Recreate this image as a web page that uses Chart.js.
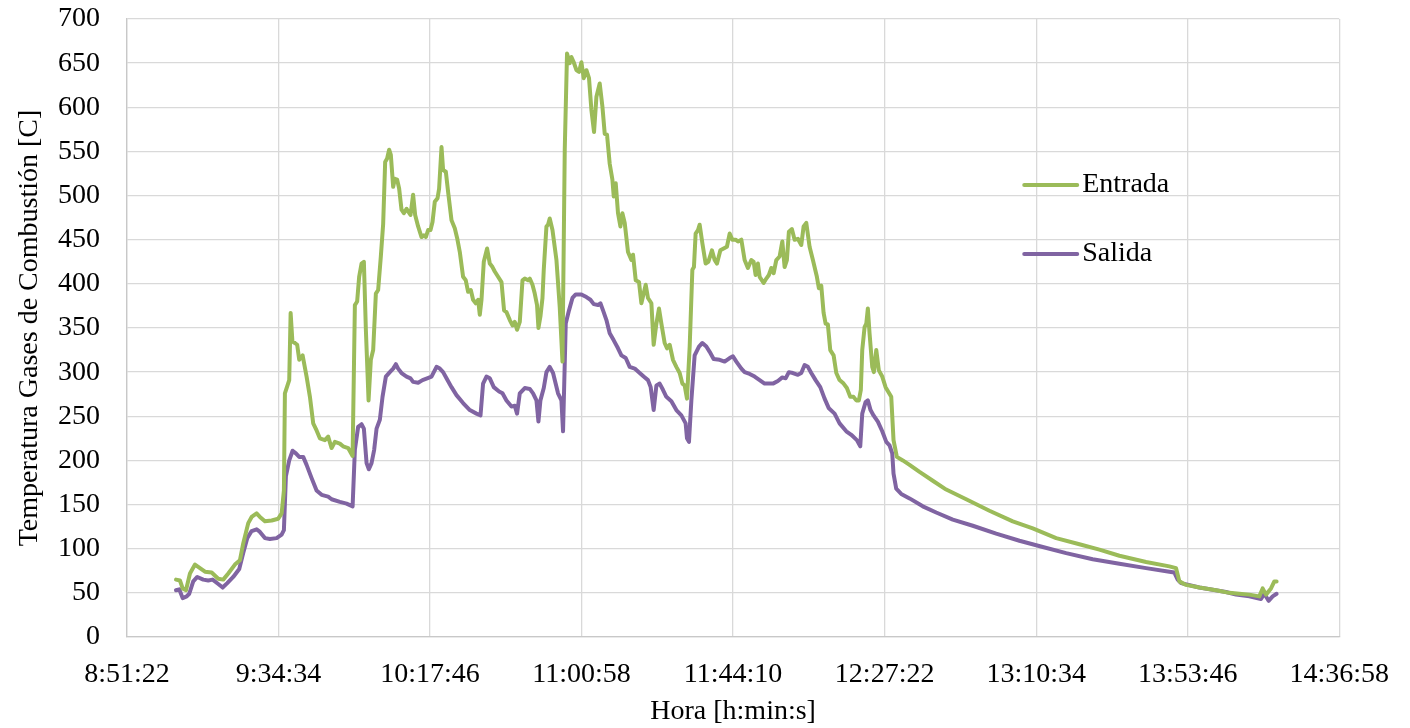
<!DOCTYPE html>
<html lang="es">

<head>
    <meta charset="UTF-8">
    <title>Temperatura gases de combustión</title>
</head>
<style>
    body {
        margin: 0;
        background: #ffffff;
    }

    .chart-con {
        position: relative;
        width: 1410px;
        height: 728px;
    }
</style>

<body>
    <div class="chart-con">
        <canvas id="temp"></canvas>
    </div>
    <script src="https://cdn.jsdelivr.net/npm/chart.js@4"></script>
    <script>
        // marcas del eje horizontal
        const horaTicks = ['8:51:22', '9:34:34', '10:17:46', '11:00:58', '11:44:10',
            '12:27:22', '13:10:34', '13:53:46', '14:36:58'];

        // Entrada
        const horaEntrada = [
            '9:05:20', '9:06:28', '9:07:14', '9:08:11', '9:09:19', '9:10:45', '9:12:10', '9:13:36', '9:15:30', '9:17:23',
            '9:18:48', '9:20:14', '9:22:08', '9:23:34', '9:24:30', '9:25:56', '9:26:54', '9:28:19', '9:29:16', '9:30:41',
            '9:32:36', '9:34:29', '9:35:27', '9:36:06', '9:36:23', '9:37:37', '9:38:01', '9:38:31', '9:39:14', '9:39:53',
            '9:40:28', '9:41:26', '9:42:34', '9:43:31', '9:44:27', '9:45:25', '9:46:21', '9:47:47', '9:48:43', '9:49:42',
            '9:50:38', '9:52:03', '9:52:58', '9:54:25', '9:55:41', '9:56:20', '9:56:59', '9:57:33', '9:58:14', '9:58:54',
            '9:59:28', '10:00:14', '10:00:53', '10:01:33', '10:02:19', '10:02:58', '10:03:44', '10:04:24', '10:04:58', '10:05:32',
            '10:06:06', '10:06:35', '10:07:15', '10:07:44', '10:08:23', '10:08:57', '10:09:38', '10:10:18', '10:11:04', '10:11:43',
            '10:12:12', '10:12:56', '10:13:31', '10:14:22', '10:15:20', '10:15:59', '10:16:34', '10:17:13', '10:17:54', '10:18:28',
            '10:19:07', '10:19:54', '10:20:21', '10:21:02', '10:21:29', '10:22:16', '10:22:55', '10:23:53', '10:24:49', '10:25:29',
            '10:26:15', '10:27:11', '10:27:57', '10:28:37', '10:29:23', '10:30:02', '10:30:48', '10:31:28', '10:31:57', '10:32:26',
            '10:33:05', '10:34:02', '10:34:48', '10:35:34', '10:36:13', '10:37:10', '10:38:08', '10:38:52', '10:39:33', '10:40:30',
            '10:41:16', '10:41:55', '10:42:34', '10:43:21', '10:44:07', '10:44:46', '10:45:42', '10:46:12', '10:46:58', '10:47:37',
            '10:48:16', '10:48:40', '10:49:14', '10:49:49', '10:50:11', '10:50:57', '10:51:24', '10:51:53', '10:52:40', '10:53:48',
            '10:54:44', '10:55:31', '10:56:10', '10:56:49', '10:57:35', '10:58:04', '10:58:44', '10:59:30', '11:00:14', '11:00:55',
            '11:01:35', '11:02:21', '11:03:05', '11:03:46', '11:04:31', '11:05:12', '11:06:08', '11:06:54', '11:07:34', '11:08:13',
            '11:08:59', '11:09:45', '11:10:08', '11:10:42', '11:11:21', '11:12:02', '11:12:36', '11:13:16', '11:14:12', '11:15:10',
            '11:15:38', '11:16:24', '11:17:20', '11:18:01', '11:19:15', '11:19:54', '11:20:52', '11:21:31', '11:22:18', '11:23:02',
            '11:23:43', '11:24:39', '11:25:19', '11:26:05', '11:27:01', '11:27:59', '11:28:56', '11:29:42', '11:30:21', '11:31:01',
            '11:31:47', '11:32:33', '11:33:00', '11:33:29', '11:34:09', '11:34:38', '11:35:24', '11:36:20', '11:37:06', '11:38:08',
            '11:38:54', '11:39:34', '11:40:32', '11:41:28', '11:42:24', '11:43:11', '11:43:57', '11:44:53', '11:45:33', '11:46:31',
            '11:47:27', '11:48:23', '11:49:22', '11:50:01', '11:50:35', '11:51:14', '11:51:44', '11:52:52', '11:53:38', '11:54:22',
            '11:55:04', '11:55:43', '11:56:29', '11:57:25', '11:58:12', '11:58:51', '11:59:30', '12:00:04', '12:00:56', '12:01:42',
            '12:02:38', '12:03:36', '12:04:16', '12:05:02', '12:05:58', '12:06:55', '12:08:03', '12:08:37', '12:09:18', '12:09:58',
            '12:10:32', '12:11:11', '12:11:52', '12:12:49', '12:13:35', '12:14:31', '12:15:40', '12:16:36', '12:17:34', '12:18:30',
            '12:19:17', '12:20:01', '12:20:35', '12:20:59', '12:21:39', '12:22:08', '12:22:35', '12:23:04', '12:23:50', '12:24:18',
            '12:24:59', '12:25:43', '12:26:41', '12:27:38', '12:29:15', '12:29:54', '12:30:51', '12:32:33', '12:34:28', '12:37:19',
            '12:41:06', '12:44:55', '12:50:37', '12:57:15', '13:03:54', '13:09:36', '13:16:16', '13:22:54', '13:28:36', '13:34:18',
            '13:41:54', '13:48:33', '13:50:27', '13:51:24', '13:53:18', '13:57:06', '14:01:51', '14:05:38', '14:08:29', '14:11:20',
            '14:14:11', '14:15:08', '14:16:06', '14:17:31', '14:18:28', '14:19:07'
        ];
        const entrada = [
            65, 64, 55, 53, 72, 82, 78, 74, 73, 66,
            65, 72, 82, 87, 106, 129, 136, 140, 136, 131,
            132, 134, 140, 166, 276, 291, 367, 335, 333, 331,
            314, 319, 295, 272, 242, 234, 225, 223, 227, 214,
            221, 219, 216, 214, 205, 376, 380, 408, 423, 425,
            348, 268, 314, 325, 389, 393, 431, 468, 538, 542,
            552, 546, 510, 519, 518, 508, 484, 480, 485, 481,
            478, 501, 478, 465, 453, 455, 453, 461, 461, 470,
            493, 497, 508, 555, 529, 527, 504, 472, 463, 452,
            436, 408, 404, 391, 393, 382, 378, 382, 365, 382,
            425, 440, 423, 419, 414, 408, 402, 370, 368, 359,
            353, 357, 348, 357, 404, 406, 404, 406, 399, 389,
            376, 350, 363, 384, 416, 465, 467, 474, 461, 427,
            374, 312, 552, 661, 650, 657, 651, 642, 640, 651,
            633, 642, 633, 597, 572, 612, 627, 601, 570, 569,
            536, 518, 499, 514, 480, 465, 480, 469, 436, 427,
            433, 404, 402, 378, 399, 384, 378, 331, 355, 372,
            355, 333, 327, 331, 314, 306, 299, 287, 285, 270,
            329, 416, 419, 457, 461, 467, 446, 423, 425, 438,
            427, 423, 438, 440, 442, 457, 450, 450, 448, 450,
            427, 418, 427, 425, 410, 423, 408, 401, 406, 410,
            418, 412, 427, 431, 448, 419, 427, 459, 462, 450,
            451, 444, 465, 469, 442, 427, 408, 395, 398, 367,
            355, 354, 325, 319, 299, 291, 287, 282, 272, 272,
            268, 268, 280, 325, 351, 355, 372, 344, 306, 300,
            325, 302, 295, 283, 272, 223, 204, 200, 195, 187,
            177, 167, 156, 143, 131, 123, 112, 105, 99, 92,
            85, 80, 78, 63, 59, 56, 53, 50, 49, 48,
            46, 55, 48, 55, 63, 63
        ];

        // Salida
        const horaSalida = [
            '9:05:20', '9:06:16', '9:07:14', '9:08:23', '9:09:07', '9:10:15', '9:11:24', '9:13:06', '9:14:32', '9:15:47',
            '9:17:23', '9:18:38', '9:19:57', '9:21:39', '9:23:22', '9:24:30', '9:25:39', '9:26:54', '9:28:19', '9:29:16',
            '9:30:41', '9:32:07', '9:34:01', '9:35:27', '9:36:06', '9:36:40', '9:37:37', '9:38:35', '9:39:31', '9:40:28',
            '9:41:36', '9:42:34', '9:44:00', '9:45:25', '9:46:51', '9:48:43', '9:49:42', '9:52:03', '9:53:58', '9:55:41',
            '9:56:20', '9:57:16', '9:58:14', '9:58:54', '9:59:40', '10:00:19', '10:01:05', '10:01:50', '10:02:31', '10:03:27',
            '10:04:13', '10:05:10', '10:06:18', '10:07:15', '10:08:01', '10:08:40', '10:09:38', '10:11:04', '10:12:12', '10:12:56',
            '10:14:22', '10:15:37', '10:16:56', '10:18:11', '10:19:37', '10:20:33', '10:21:29', '10:22:27', '10:23:53', '10:25:18',
            '10:27:11', '10:29:06', '10:31:00', '10:32:09', '10:32:53', '10:33:51', '10:34:48', '10:35:56', '10:37:27', '10:38:25',
            '10:39:33', '10:40:59', '10:41:55', '10:42:34', '10:43:21', '10:44:46', '10:46:12', '10:47:08', '10:48:06', '10:48:40',
            '10:49:14', '10:50:11', '10:50:57', '10:51:53', '10:52:50', '10:54:15', '10:55:13', '10:55:41', '10:56:27', '10:57:23',
            '10:58:22', '10:59:18', '11:00:55', '11:02:21', '11:03:29', '11:04:26', '11:05:39', '11:06:20', '11:07:05', '11:08:03',
            '11:08:59', '11:10:08', '11:11:21', '11:12:19', '11:13:33', '11:14:41', '11:16:07', '11:17:32', '11:18:40', '11:19:54',
            '11:20:40', '11:21:31', '11:22:18', '11:23:14', '11:24:10', '11:25:08', '11:26:34', '11:27:59', '11:29:25', '11:30:38',
            '11:31:01', '11:31:35', '11:32:16', '11:33:12', '11:34:26', '11:35:24', '11:36:32', '11:37:29', '11:38:37', '11:40:20',
            '11:41:45', '11:43:11', '11:44:07', '11:45:05', '11:46:31', '11:47:27', '11:48:53', '11:50:18', '11:51:44', '11:53:09',
            '11:55:31', '11:56:56', '11:58:12', '11:59:08', '12:00:04', '12:01:13', '12:02:38', '12:03:36', '12:04:33', '12:05:29',
            '12:06:27', '12:07:41', '12:09:01', '12:10:15', '12:11:28', '12:13:06', '12:14:31', '12:16:26', '12:17:51', '12:19:27',
            '12:20:25', '12:20:59', '12:21:56', '12:22:35', '12:23:21', '12:24:12', '12:25:26', '12:26:41', '12:27:50', '12:28:46',
            '12:29:32', '12:29:54', '12:30:40', '12:32:06', '12:34:28', '12:38:15', '12:42:04', '12:46:48', '12:52:30', '12:59:10',
            '13:05:48', '13:12:27', '13:19:07', '13:26:41', '13:34:18', '13:41:54', '13:48:33', '13:49:58', '13:50:55', '13:51:53',
            '13:57:06', '14:04:42', '14:07:33', '14:11:20', '14:14:40', '14:15:37', '14:16:50', '14:17:59', '14:19:07'
        ];
        const salida = [
            53, 54, 44, 46, 49, 63, 68, 65, 64, 65,
            60, 56, 61, 68, 77, 95, 112, 120, 122, 119,
            112, 111, 112, 116, 121, 182, 200, 211, 208, 204,
            204, 195, 180, 166, 161, 159, 156, 153, 151, 148,
            212, 238, 241, 236, 197, 190, 197, 212, 236, 246,
            272, 295, 300, 304, 309, 304, 299, 295, 293, 289,
            288, 291, 293, 295, 306, 304, 300, 293, 283, 274,
            265, 257, 253, 251, 287, 295, 293, 283, 278, 276,
            268, 261, 262, 253, 276, 282, 281, 276, 268, 244,
            268, 282, 300, 306, 299, 276, 268, 233, 355, 370,
            384, 388, 388, 385, 382, 377, 376, 378, 370, 359,
            344, 336, 327, 319, 316, 306, 304, 299, 295, 291,
            283, 257, 285, 287, 280, 272, 267, 257, 251, 242,
            225, 221, 268, 319, 329, 333, 329, 323, 315, 314,
            312, 316, 318, 312, 304, 300, 298, 295, 291, 287,
            287, 290, 294, 293, 300, 299, 297, 299, 308, 306,
            299, 291, 283, 270, 259, 253, 242, 233, 229, 223,
            216, 253, 266, 268, 257, 251, 244, 233, 221, 217,
            208, 185, 168, 162, 157, 148, 141, 133, 126, 117,
            109, 102, 95, 88, 83, 78, 74, 73, 65, 61,
            56, 51, 48, 46, 43, 49, 41, 46, 49
        ];

        function aSegundos(h) {
            const p = h.split(':').map(Number);
            return p[0] * 3600 + p[1] * 60 + (p[2] || 0);
        }
        function aHora(s) {
            const h = Math.floor(s / 3600);
            const m = Math.floor((s % 3600) / 60);
            const seg = Math.round(s % 60);
            return h + ':' + String(m).padStart(2, '0') + ':' + String(seg).padStart(2, '0');
        }
        const puntos = (horas, valores) => horas.map((h, i) => ({ x: aSegundos(h), y: valores[i] }));

        const fuente = "'Liberation Serif', 'Times New Roman', serif";
        const gris = '#d9d9d9';

        // leyenda dentro del area de la grafica
        const leyendaInterna = {
            id: 'leyendaInterna',
            afterDatasetsDraw(chart) {
                const { ctx, chartArea } = chart;
                const x0 = chartArea.right - 315;
                chart.data.datasets.forEach((ds, i) => {
                    const y = chartArea.top + 166 + i * 69;
                    ctx.save();
                    ctx.strokeStyle = ds.borderColor;
                    ctx.lineWidth = 4;
                    ctx.lineCap = 'round';
                    ctx.beginPath();
                    ctx.moveTo(x0, y);
                    ctx.lineTo(x0 + 53, y);
                    ctx.stroke();
                    ctx.fillStyle = '#000000';
                    ctx.font = '28px ' + fuente;
                    ctx.textBaseline = 'middle';
                    ctx.fillText(ds.label, x0 + 58, y);
                    ctx.restore();
                });
            }
        };

        const ctx = document.getElementById('temp');
        new Chart(ctx, {
            type: 'line',
            data: {
                datasets: [
                    {
                        label: 'Entrada',
                        data: puntos(horaEntrada, entrada),
                        borderColor: '#9bbb59',
                        borderWidth: 4
                    },
                    {
                        label: 'Salida',
                        data: puntos(horaSalida, salida),
                        borderColor: '#8064a2',
                        borderWidth: 4
                    }
                ]
            },
            options: {
                responsive: true,
                maintainAspectRatio: false,
                animation: false,
                layout: {
                    padding: { top: 19, right: 70, bottom: 0, left: 0 }
                },
                elements: {
                    point: { radius: 0 },
                    line: { tension: 0, borderJoinStyle: 'round', borderCapStyle: 'round' }
                },
                plugins: {
                    legend: { display: false },
                    tooltip: { enabled: false }
                },
                scales: {
                    x: {
                        type: 'linear',
                        min: aSegundos(horaTicks[0]),
                        max: aSegundos(horaTicks[horaTicks.length - 1]),
                        afterBuildTicks: (scale) => {
                            scale.ticks = horaTicks.map(h => ({ value: aSegundos(h) }));
                        },
                        afterFit: (scale) => {
                            scale.height = 91;
                        },
                        grid: { color: gris, lineWidth: 1.3, drawTicks: false },
                        border: { color: '#c8c8c8', width: 1.3 },
                        ticks: {
                            color: '#000000',
                            font: { family: fuente, size: 28 },
                            padding: 21,
                            maxRotation: 0,
                            autoSkip: false,
                            callback: (value) => aHora(value)
                        },
                        title: {
                            display: true,
                            text: 'Hora [h:min:s]',
                            color: '#000000',
                            font: { family: fuente, size: 28 },
                            padding: 0
                        }
                    },
                    y: {
                        min: 0,
                        max: 700,
                        afterFit: (scale) => {
                            scale.width = 127;
                            // el margen superior ya lo da layout.padding
                            scale.paddingTop = 0;
                            scale.paddingBottom = 0;
                        },
                        grid: { color: gris, lineWidth: 1.3, drawTicks: false },
                        border: { color: '#c8c8c8', width: 1.3 },
                        ticks: {
                            stepSize: 50,
                            color: '#000000',
                            font: { family: fuente, size: 28 },
                            padding: 27
                        },
                        title: {
                            display: true,
                            text: 'Temperatura Gases de Combustión [C]',
                            color: '#000000',
                            font: { family: fuente, size: 28 },
                            padding: { top: 13, bottom: 0 }
                        }
                    }
                }
            },
            plugins: [leyendaInterna]
        });
    </script>
</body>

</html>
